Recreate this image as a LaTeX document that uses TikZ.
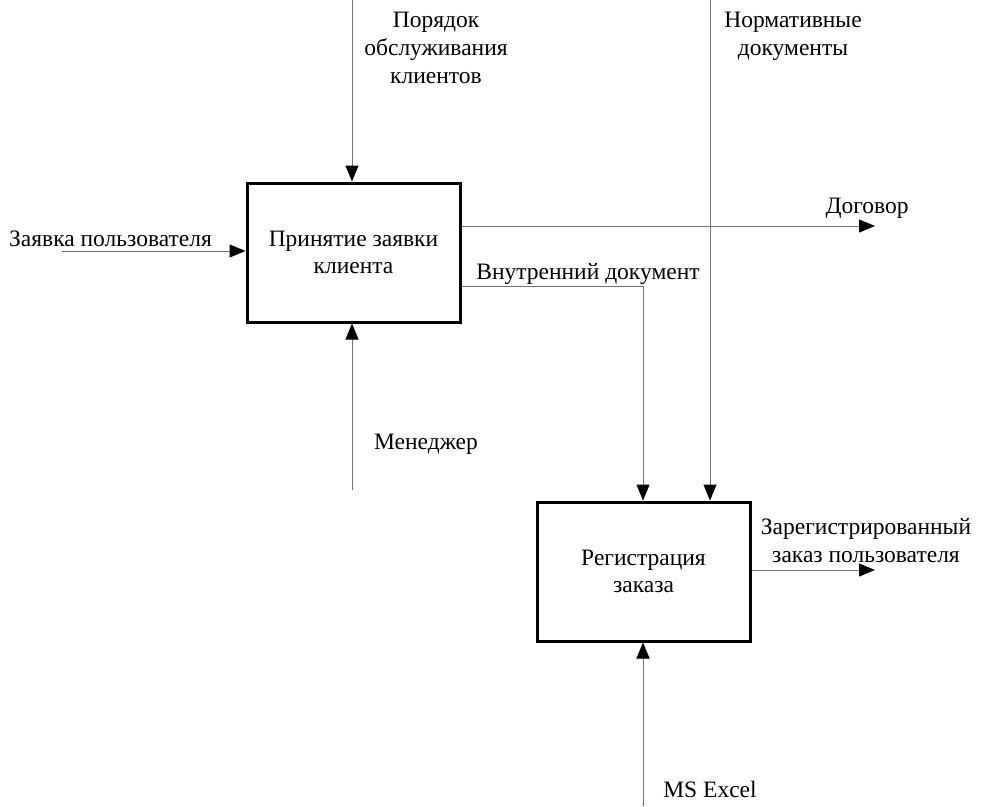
\documentclass[tikz,border=0pt]{standalone}
\usepackage{fontspec}
\setmainfont{Liberation Serif}
\usetikzlibrary{arrows.meta}
\tikzset{
  box/.style={draw=black, line width=3pt, minimum width=213pt, minimum height=139pt, inner sep=0pt, align=center, font=\fontsize{23.5}{27}\selectfont},
  conn/.style={draw=black!55, line width=1pt},
  arr/.style={conn, -{Triangle[length=16pt,width=13pt,fill=black,color=black]}},
  lbl/.style={font=\fontsize{23.5}{28}\selectfont, align=center, inner sep=0pt},
}
\begin{document}
\begin{tikzpicture}[x=1pt,y=-1pt]
\useasboundingbox (0,0) rectangle (987,806);
\fill[white] (0,0) rectangle (987,806);
% boxes
\node[box] (b1) at (353.5,252.5) {Принятие заявки\\клиента};
\node[box] (b2) at (643.5,571.5) {Регистрация\\заказа};
% free ends
\coordinate (ctrl1) at (352,0);
\coordinate (ctrl2) at (710,0);
\coordinate (in1) at (62,251);
\coordinate (out1) at (875,226);
\coordinate (mid) at (643,286);
\coordinate (mech1) at (352,490);
\coordinate (out2) at (875,570);
\coordinate (mech2) at (643,806);
% connectors
\draw[arr] (ctrl1) -- (ctrl1 |- b1.north);
\draw[arr] (ctrl2) -- (ctrl2 |- b2.north);
\draw[arr] (in1) -- (in1 -| b1.west);
\draw[arr] (out1 -| b1.east) -- (out1);
\draw[arr] (mid -| b1.east) -- (mid) -- (mid |- b2.north);
\draw[arr] (mech1) -- (mech1 |- b1.south);
\draw[arr] (out2 -| b2.east) -- (out2);
\draw[arr] (mech2) -- (mech2 |- b2.south);
% labels
\node[lbl] (lctrl1) at (436,48) {Порядок\\обслуживания\\клиентов};
\node[lbl] (lctrl2) at (793,36) {Нормативные\\документы};
\node[lbl, anchor=base west] (lin1) at (9,246) {Заявка пользователя};
\node[lbl, anchor=base] (lout1) at (867,213) {Договор};
\node[lbl, anchor=base] (lmid) at (588,279) {Внутренний документ};
\node[lbl, anchor=base] (lmech1) at (426,449) {Менеджер};
\node[lbl] (lout2) at (866,541) {Зарегистрированный\\заказ пользователя};
\node[lbl, anchor=base] (lmech2) at (710,797) {MS Excel};
\end{tikzpicture}
\end{document}
